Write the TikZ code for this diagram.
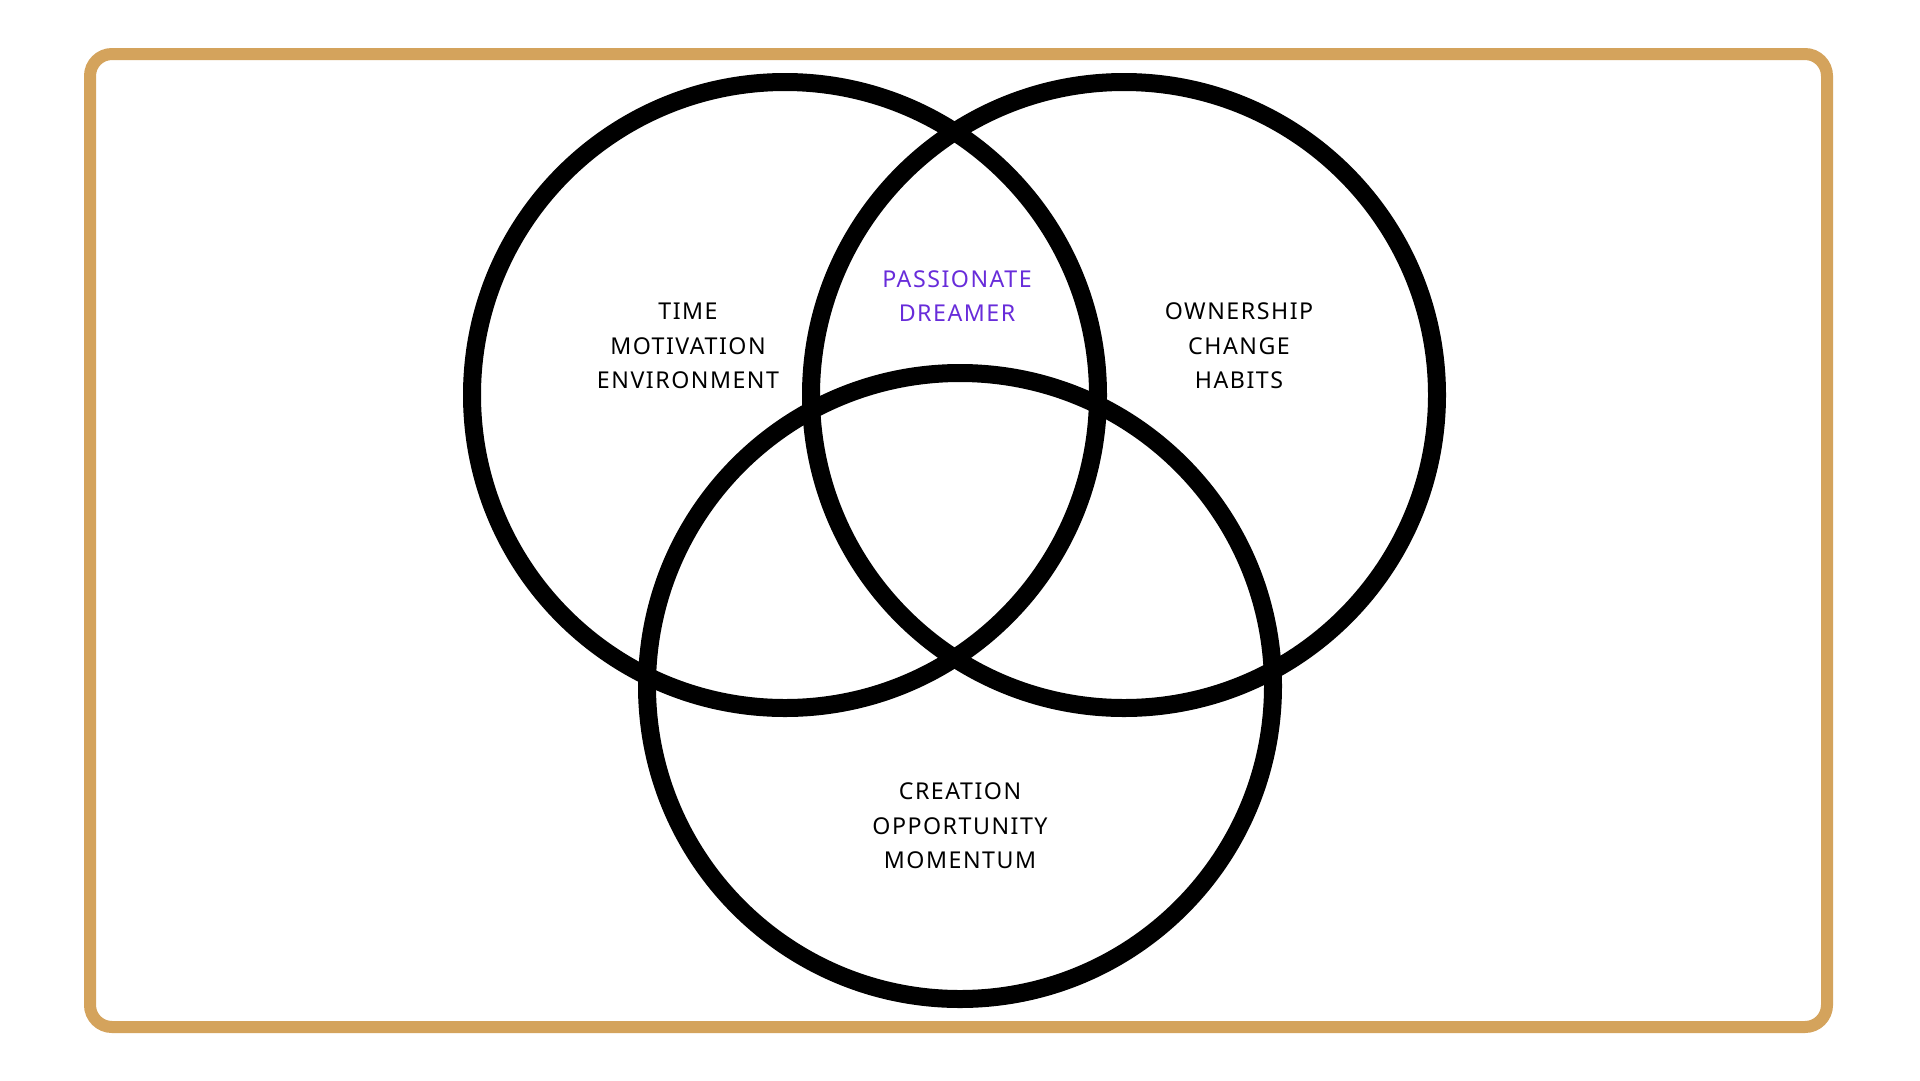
\documentclass[tikz,border=0pt]{standalone}
\usepackage{fontspec}
\setmainfont[LetterSpace=6.5]{Noto Sans}
\definecolor{gold}{RGB}{212,163,92}
\definecolor{dreamer}{RGB}{104,44,218}
\begin{document}
\begin{tikzpicture}[x=1pt,y=-1pt,
  ring/.style={draw=black,line width=18pt},
  frame/.style={draw=gold,line width=12pt,rounded corners=22pt},
  lbl/.style={align=center,inner sep=0pt,font=\fontsize{23.2}{34.5}\selectfont,text=black}]
\useasboundingbox[fill=white] (0,0) rectangle (1920,1080);
\draw[frame] (90,54) rectangle (1827,1027);
\coordinate (cl) at (785,395);
\coordinate (cr) at (1124,395);
\coordinate (cb) at (960,686);
\draw[ring] (cl) circle[radius=313];
\draw[ring] (cr) circle[radius=313];
\draw[ring] (cb) circle[radius=313];
\node[lbl] (tl) at (688,346) {TIME\\MOTIVATION\\ENVIRONMENT};
\node[lbl] (tr) at (1239,346) {OWNERSHIP\\CHANGE\\HABITS};
\node[lbl] (tb) at (960,826) {CREATION\\OPPORTUNITY\\MOMENTUM};
\node[lbl,text=dreamer] (tc) at (957,296) {PASSIONATE\\DREAMER};
\end{tikzpicture}
\end{document}
